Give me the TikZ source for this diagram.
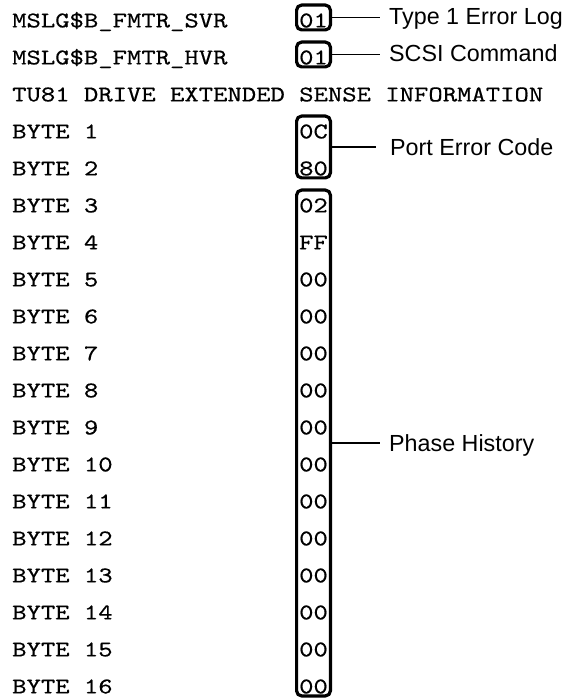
\documentclass[tikz,border=0pt]{standalone}
\usepackage{fontspec}
\setmainfont{Liberation Sans}
\newfontfamily\monofnt{lmmono10-regular.otf}[FakeStretch=1.215,FakeBold=0.4]
\begin{document}
\begin{tikzpicture}[x=1pt,y=-1pt,
  mono/.style={font=\monofnt\fontsize{22.5}{24}\selectfont, anchor=base west, inner sep=0pt},
  val/.style={font=\monofnt\fontsize{22.5}{24}\selectfont, anchor=base, inner sep=0pt},
  regbox/.style={draw, line width=3.2pt, rounded corners=5pt, minimum width=33.8pt, inner sep=0pt},
  lab/.style={font=\fontsize{23.3}{25}\selectfont, anchor=base west, inner sep=0pt},
  conn/.style={line width=1.8pt}]
\useasboundingbox (0,0) rectangle (569,700);
% row centres: c_k = 20.5 + 37k ; baselines b_k = c_k + 6.9
\foreach \k/\t in {0/{MSLG\$B\_FMTR\_SVR},1/{MSLG\$B\_FMTR\_HVR},2/{TU81 DRIVE EXTENDED SENSE INFORMATION},
  3/{BYTE 1},4/{BYTE 2},5/{BYTE 3},6/{BYTE 4},7/{BYTE 5},8/{BYTE 6},9/{BYTE 7},10/{BYTE 8},
  11/{BYTE 9},12/{BYTE 10},13/{BYTE 11},14/{BYTE 12},15/{BYTE 13},16/{BYTE 14},17/{BYTE 15},18/{BYTE 16}}
  \node[mono] (row\k) at (12,{27.4+37*\k}) {\t};
% values
\foreach \k/\v in {0/01,1/01,3/0C,4/80,5/02,6/FF,7/00,8/00,9/00,10/00,11/00,12/00,13/00,14/00,15/00,16/00,17/00,18/00}
  \node[val] (v\k) at (313.5,{27.4+37*\k}) {\v};
% boxes (outer top = c_first - 17, outer bottom = c_last + 11)
\node[regbox, minimum height=24.8pt] (b1) at (313.5,17.5) {};
\node[regbox, minimum height=24.8pt] (b2) at (313.5,54.5) {};
\node[regbox, minimum height=61.8pt] (b3) at (313.5,147) {};
\node[regbox, minimum height=505.8pt] (b4) at (313.5,443) {};
% connectors and labels
\coordinate (e1) at (380,17.5);
\coordinate (e2) at (380,54.5);
\coordinate (e3) at (376,147);
\coordinate (e4) at (380,443);
\draw[conn] (b1.east) -- (e1);
\draw[conn] (b2.east) -- (e2);
\draw[conn] (b3.east) -- (e3);
\draw[conn] (b4.east) -- (e4);
\node[lab] (t1) at (389,24.5) {Type 1 Error Log};
\node[lab] (t2) at (389,61.5) {SCSI Command};
\node[lab] (t3) at (390,155.5) {Port Error Code};
\node[lab] (t4) at (389,451.5) {Phase History};
\end{tikzpicture}
\end{document}
